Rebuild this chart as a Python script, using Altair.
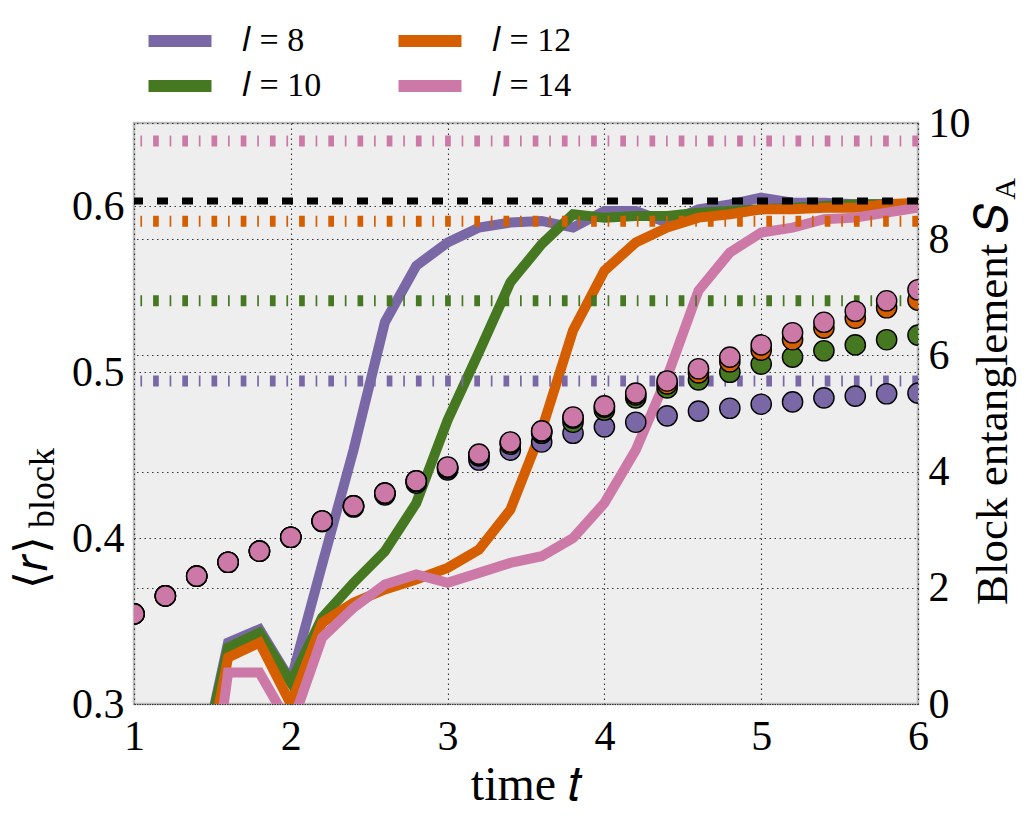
import altair as alt
import pandas as pd

# ---------------- data ----------------
labels = ["l = 8", "l = 10", "l = 12", "l = 14"]
legend_labels = ["𝑙 = 8", "𝑙 = 10", "𝑙 = 12", "𝑙 = 14"]
colors = ["#7A68A6", "#467821", "#D55E00", "#CC79A7"]

# block level-spacing ratio <r>_block (left axis)
t_line = [1.4, 1.6, 1.8, 2.0, 2.2, 2.4, 2.6, 2.8, 3.0, 3.2, 3.4, 3.6,
          3.8, 4.0, 4.2, 4.4, 4.6, 4.8, 5.0, 5.2, 5.4, 5.6, 5.8, 6.0]
r8 = [0.25, 0.337, 0.345, 0.314, 0.384, 0.453, 0.530, 0.564, 0.578, 0.587, 0.590, 0.591,
      0.587, 0.597, 0.597, 0.590, 0.598, 0.601, 0.605, 0.602, 0.602, 0.601, 0.601, 0.601]
r10 = [0.25, 0.334, 0.343, 0.313, 0.352, 0.373, 0.392, 0.421, 0.471, 0.512, 0.554, 0.577,
       0.595, 0.593, 0.594, 0.594, 0.596, 0.597, 0.598, 0.599, 0.600, 0.601, 0.601, 0.601]
r12 = [0.23, 0.328, 0.337, 0.300, 0.349, 0.361, 0.369, 0.375, 0.382, 0.393, 0.417, 0.465,
       0.525, 0.561, 0.578, 0.587, 0.593, 0.595, 0.598, 0.598, 0.599, 0.599, 0.601, 0.602]
r14 = [0.18, 0.319, 0.319, 0.286, 0.340, 0.358, 0.372, 0.378, 0.373, 0.379, 0.385, 0.389,
       0.400, 0.421, 0.453, 0.497, 0.549, 0.572, 0.584, 0.587, 0.592, 0.593, 0.596, 0.599]
r_goe = [0.603]

# block entanglement S_A (right axis)
t_dot = [1.0, 1.2, 1.4, 1.6, 1.8, 2.0, 2.2, 2.4, 2.6, 2.8, 3.0, 3.2, 3.4,
         3.6, 3.8, 4.0, 4.2, 4.4, 4.6, 4.8, 5.0, 5.2, 5.4, 5.6, 5.8, 6.0]
S8 = [1.55, 1.86, 2.20, 2.44, 2.63, 2.87, 3.14, 3.39, 3.60, 3.80, 4.03, 4.20, 4.37,
      4.51, 4.66, 4.77, 4.85, 4.96, 5.04, 5.09, 5.16, 5.20, 5.27, 5.30, 5.34, 5.35]
S10 = [1.55, 1.86, 2.20, 2.44, 2.63, 2.87, 3.15, 3.41, 3.63, 3.83, 4.06, 4.27, 4.47,
       4.66, 4.85, 5.06, 5.27, 5.44, 5.58, 5.71, 5.85, 5.97, 6.08, 6.18, 6.27, 6.35]
S12 = [1.55, 1.86, 2.20, 2.44, 2.63, 2.87, 3.15, 3.41, 3.63, 3.84, 4.07, 4.29, 4.50,
       4.69, 4.92, 5.11, 5.32, 5.51, 5.70, 5.89, 6.09, 6.27, 6.47, 6.64, 6.82, 6.95]
S14 = [1.55, 1.86, 2.20, 2.44, 2.63, 2.87, 3.15, 3.41, 3.63, 3.84, 4.08, 4.30, 4.51,
       4.70, 4.94, 5.13, 5.35, 5.56, 5.77, 5.97, 6.18, 6.39, 6.57, 6.76, 6.94, 7.13]
S_page = [5.56, 6.94, 8.31, 9.69]

x_ticks = [1, 2, 3, 4, 5, 6]
r_ticks = [0.3, 0.4, 0.5, 0.6]
S_ticks = [0, 2, 4, 6, 8, 10]

# ---------------- tables ----------------
lab_map = dict(zip(labels, legend_labels))
line_frames = []
for lab, vals in zip(labels, [r8, r10, r12, r14]):
    line_frames.append(pd.DataFrame({"t": t_line, "r": vals, "l": lab_map[lab]}))
dot_rows = []
for lab, vals in zip(labels, [S8, S10, S12, S14]):
    for t, v in zip(t_dot, vals):
        dot_rows.append({"t": t, "S": v, "l": lab_map[lab]})
dots_df = pd.DataFrame(dot_rows)
page_df = pd.DataFrame({"S": S_page, "l": legend_labels})
goe_df = pd.DataFrame({"r": r_goe})
one = pd.DataFrame({"a": [0]})

SERIF = "Liberation Serif"
GRID = dict(grid=True, gridColor="#222222", gridDash=[1.5, 3.5], gridWidth=1.1, gridOpacity=0.9)

color_scale = alt.Scale(domain=legend_labels, range=colors)

x_enc = alt.X("t:Q", scale=alt.Scale(domain=[1, 6], nice=False),
              axis=alt.Axis(values=x_ticks, format="d", title="time 𝑡", ticks=False,
                            domain=False, labelFlush=False, labelPadding=12,
                            labelFont=SERIF, labelFontSize=42, labelColor="black",
                            titleFont=SERIF, titleFontSize=48, titleFontWeight="normal",
                            titleColor="black", titlePadding=4, **GRID))

y_r = alt.Y("r:Q", scale=alt.Scale(domain=[0.3, 0.65], nice=False, zero=False),
            axis=alt.Axis(orient="left", values=r_ticks, format=".1f", title=None,
                          ticks=False, domain=False, labelPadding=10,
                          labelFont=SERIF, labelFontSize=42, labelColor="black", **GRID))

y_S = alt.Y("S:Q", scale=alt.Scale(domain=[0, 10], nice=False),
            axis=alt.Axis(orient="right", values=S_ticks, format="d", title=None,
                          ticks=False, domain=False, labelPadding=10,
                          labelFont=SERIF, labelFontSize=42, labelColor="black", **GRID))

# ---------------- left group: <r> lines ----------------
legend = alt.Legend(title=None, orient="none", legendX=29, legendY=-99,
                    columns=2, symbolType="M-4,0H4", symbolSize=248,
                    symbolStrokeWidth=12, labelFont=SERIF,
                    labelFontSize=34, labelColor="black",
                    labelOffset=45, columnPadding=52, rowPadding=-3, padding=0)
line_layers = []
for i, df in enumerate(line_frames):
    enc = dict(x=x_enc, y=y_r,
               color=alt.Color("l:N", scale=color_scale, legend=legend if i == 0 else None))
    line_layers.append(alt.Chart(df).mark_line(strokeWidth=10, clip=True).encode(**enc))

goe = alt.Chart(goe_df).mark_rule(color="black", strokeWidth=7, strokeDash=[11, 14]).encode(y=y_r)

left_title_main = alt.Chart(one).mark_text(text="⟨𝑟⟩", font=SERIF, fontSize=46, angle=270,
                                           align="center", baseline="middle", color="black").encode(
    x=alt.value(-101), y=alt.value(439))
left_title_sub = alt.Chart(one).mark_text(text="block", font=SERIF, fontSize=36, angle=270,
                                          align="center", baseline="middle", color="black").encode(
    x=alt.value(-91), y=alt.value(365))

left = alt.layer(*line_layers, goe, left_title_main, left_title_sub)

# ---------------- right group: entanglement ----------------
page = alt.Chart(page_df).mark_rule(strokeWidth=11, strokeDash=[5.7, 11, 1.7, 10.8]).encode(
    y=y_S, color=alt.Color("l:N", scale=color_scale, legend=None))

dots = alt.Chart(dots_df).mark_point(shape="circle", filled=True, size=410, stroke="black",
                                     strokeWidth=1.4, opacity=1, clip=True).encode(
    x=x_enc, y=y_S, fill=alt.Fill("l:N", scale=color_scale, legend=None))

right_title_main = alt.Chart(one).mark_text(text="Block entanglement 𝑆", font=SERIF, fontSize=45,
                                            angle=270, align="left", baseline="middle",
                                            color="black").encode(
    x=alt.value(859), y=alt.value(482))
right_title_sub = alt.Chart(one).mark_text(text="A", font=SERIF, fontSize=30, angle=270,
                                           align="center", baseline="middle", color="black").encode(
    x=alt.value(872), y=alt.value(66))

right = alt.layer(page, dots, right_title_main, right_title_sub)

chart = alt.layer(left, right).resolve_scale(y="independent").properties(
    width=784, height=581,
    autosize=alt.AutoSizeParams(type="none"),
    padding={"left": 134, "top": 123, "right": 117, "bottom": 118},
    background="white",
).configure_view(fill="#eeeeee", stroke="#bcbcbc", strokeWidth=2.5)

chart.save("out.html", embed_options={"renderer": "svg", "actions": False})
